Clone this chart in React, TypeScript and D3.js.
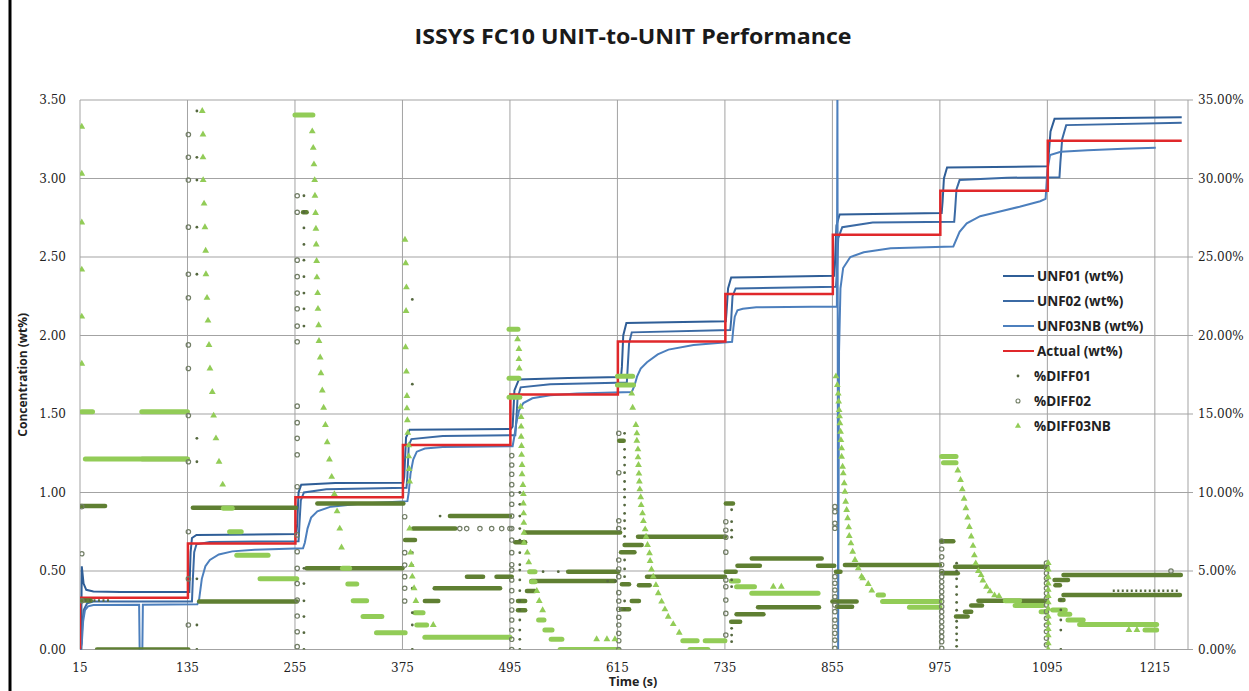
import React from "react";
import * as d3 from "d3";

type P = [number, number];
type R = [number, number, number];

const chartTitle = "ISSYS FC10 UNIT-to-UNIT Performance";
const xTickValues = [15, 135, 255, 375, 495, 615, 735, 855, 975, 1095, 1215];
const yLeftTicks = [0, 0.5, 1, 1.5, 2, 2.5, 3, 3.5];
const yRightTicks = [0, 5, 10, 15, 20, 25, 30, 35];
const legendNames = ["UNF01 (wt%)", "UNF02 (wt%)", "UNF03NB (wt%)", "Actual (wt%)", "%DIFF01", "%DIFF02", "%DIFF03NB"];

// time (s), concentration (wt%)
const unf01: P[] = [
  [15, 0], [16.2, 0], [17, 0.53], [19, 0.42], [22, 0.38], [30, 0.37], [60, 0.366], [137, 0.366],
  [138.5, 0.62], [140, 0.71], [145, 0.73], [256.5, 0.735],
  [257.5, 0.8], [259, 1.0], [262, 1.05], [300, 1.06], [376, 1.062],
  [377, 1.1], [379, 1.35], [383, 1.4], [496, 1.405],
  [498, 1.42], [500, 1.65], [505, 1.72], [560, 1.73], [619, 1.735],
  [620, 1.8], [621.5, 2.0], [625, 2.08], [736, 2.09],
  [736.8, 2.15], [738.5, 2.3], [742, 2.37], [857, 2.38],
  [857.8, 2.45], [859.5, 2.7], [863, 2.77], [977, 2.78],
  [978, 2.85], [979.5, 3.0], [983, 3.07], [1095.5, 3.078],
  [1096.5, 3.15], [1098.5, 3.3], [1103, 3.38], [1245, 3.39]
];
const unf02: P[] = [
  [15, 0], [16.5, 0], [17.5, 0.15], [19, 0.25], [23, 0.295], [30, 0.305], [140, 0.305],
  [141, 0.45], [142.5, 0.62], [145, 0.67], [160, 0.685], [259, 0.69],
  [260, 0.8], [261.5, 0.95], [265, 1.0], [290, 1.02], [379.5, 1.03],
  [380.5, 1.1], [382, 1.3], [385, 1.34], [420, 1.36], [501, 1.365],
  [502, 1.45], [503.5, 1.6], [507, 1.67], [540, 1.69], [625.5, 1.7],
  [626.5, 1.8], [628, 1.95], [631, 2.02], [741, 2.035],
  [742, 2.1], [743.5, 2.25], [747, 2.3], [859, 2.31],
  [860, 2.4], [861.5, 2.62], [866, 2.69], [900, 2.72], [991, 2.725],
  [992, 2.8], [993.5, 2.93], [997, 2.99], [1050, 3.005], [1108.5, 3.008],
  [1109.5, 3.1], [1111.5, 3.25], [1116, 3.34], [1245, 3.355]
];
const unf03nb: P[] = [
  [15, 0], [17, 0.04], [18.5, 0.18], [20.5, 0.25], [24, 0.275], [30, 0.283], [81, 0.285],
  [81.6, 0], [84.6, 0], [85.2, 0.285], [146, 0.288],
  [148, 0.32], [151, 0.45], [155, 0.53], [160, 0.57], [170, 0.605], [185, 0.625], [210, 0.635], [264, 0.645],
  [266, 0.68], [269, 0.77], [273, 0.84], [280, 0.88], [295, 0.91], [330, 0.93], [380.5, 0.945],
  [382, 1.0], [384, 1.12], [387, 1.21], [391, 1.26], [400, 1.28], [420, 1.29], [498, 1.295],
  [500, 1.36], [502, 1.44], [505, 1.52], [510, 1.57], [520, 1.6], [540, 1.62], [570, 1.63], [631, 1.64],
  [634, 1.68], [637, 1.74], [641, 1.79], [648, 1.83], [660, 1.88], [672, 1.91], [700, 1.94], [743, 1.96],
  [744.5, 2.05], [746, 2.12], [749, 2.16], [755, 2.17], [770, 2.18], [860, 2.185],
  [860.6, 3.62], [861.4, 0], [862.4, 1.9], [864, 2.3], [867, 2.43], [875, 2.5], [890, 2.53], [920, 2.555], [990, 2.567],
  [997, 2.66], [1005, 2.715], [1020, 2.76], [1042, 2.79], [1064, 2.82], [1087, 2.855], [1093, 2.87],
  [1095, 3.05], [1098, 3.15], [1110, 3.17], [1140, 3.18], [1180, 3.19], [1216, 3.196]
];
const actualTimes = [15, 135.5, 255.5, 375.5, 495.5, 615.5, 735.5, 855.5, 975.5, 1095.5, 1245];
const actualLevels = [0.33, 0.675, 0.97, 1.303, 1.625, 1.962, 2.264, 2.642, 2.922, 3.241];

// %DIFF runs: [start time, end time, percent] (dense markers)
const diff02Runs: R[] = [
  [16, 43, 9.14], [15, 27, 3.12], [34, 136, 0], [84, 135, 12.13],
  [141, 256, 9.03], [148, 257, 3.05],
  [268, 375, 5.17], [280, 376, 9.3], [264, 268, 27.85],
  [378, 389, 6.97], [387, 434, 7.7], [428, 495, 8.5], [411, 484, 3.9], [447, 465, 4.64], [480, 497, 4.64], [400, 415, 3.09],
  [512, 618, 7.46], [519, 612, 4.36], [560, 616, 4.96], [501, 512, 6.83], [514, 523, 3.73], [504, 512, 3.09], [504, 512, 2.5],
  [638, 735, 7.18], [648, 735, 4.64], [639, 651, 4.1], [623, 642, 6.66], [617, 622, 13.3], [619, 634, 6.19], [620, 628, 4.15], [631, 639, 3.09], [619, 628, 2.56],
  [736, 744, 9.3], [772, 840, 2.69], [765, 843, 5.8], [749, 774, 5.34], [839, 857, 5.34], [748, 778, 2.24], [742, 752, 1.77], [736, 747, 4.96],
  [869, 975, 5.38], [855, 882, 3.05], [860, 877, 2.73], [859, 864, 4.96],
  [992, 1095, 5.27], [977, 995, 4.85], [1018, 1094, 3.1], [1010, 1022, 2.8], [1003, 1010, 2.4], [993, 1006, 2.1], [977, 990, 6.9],
  [1113, 1244, 4.74], [1103, 1118, 4.43], [1104, 1109, 4.1], [1113, 1243, 3.47], [1109, 1113, 3.15]
];
const diff01DotRuns: R[] = [
  [20, 50, 3.12], [1168, 1243, 3.75]
];
const diff03Runs: R[] = [
  [17, 29, 15.15], [84, 135, 15.15], [21, 135, 12.13],
  [175, 185, 9.0], [182, 195, 7.5], [190, 225, 6.0], [216, 257, 4.5],
  [255, 275, 34.05], [308, 316, 5.17], [314, 324, 4.17], [320, 335, 3.1], [331, 352, 2.1], [346, 378, 1.07],
  [389, 398, 2.34], [391, 402, 1.56], [400, 495, 0.78],
  [494, 504, 20.4], [494, 505, 17.27], [494, 506, 16.06], [517, 523, 4.96], [519, 523, 4.32], [527, 533, 1.88], [534, 542, 1.24], [541, 553, 0.65], [551, 616, 0],
  [615, 632, 17.4], [615, 633, 16.85], [688, 704, 0.56], [696, 716, 0], [713, 735, 0.56],
  [765, 839, 3.58], [748, 768, 4.0], [742, 750, 4.36],
  [906, 912, 3.47], [911, 975, 3.05], [941, 975, 2.69],
  [977, 993, 12.3], [979, 993, 11.9], [1048, 1064, 3.1], [1059, 1090, 2.8], [1088, 1094, 2.4],
  [1101, 1115, 2.52], [1109, 1120, 2.24], [1118, 1135, 1.88], [1131, 1217, 1.6], [1204, 1217, 1.24]
];

// individual markers: [time, percent]
const diff03Points: P[] = [
  [17, 33.3], [17, 30.3], [17, 27.2], [17, 24.2], [17, 21.2], [17, 18.2],
  [151.5, 34.3], [152.3, 32.8], [152.3, 31.35], [152.5, 29.9], [153.5, 28.4], [154.5, 26.9], [155.3, 25.4], [155.6, 23.9],
  [156.8, 22.4], [157.9, 20.95], [159, 19.4], [160.1, 17.9], [162.7, 16.4], [164.2, 14.9], [166.8, 13.45], [170.2, 11.96], [174.3, 10.5],
  [274.3, 33.0], [275.4, 31.95], [276.2, 30.9], [277, 29.9], [277.3, 28.9], [278, 27.8], [278.4, 26.8], [278.7, 25.8],
  [279.2, 24.75], [279.5, 23.7], [280.3, 22.7], [280.7, 21.7], [281.4, 20.65], [281.8, 19.65], [283.2, 18.6], [284, 17.6],
  [285.5, 16.5], [287, 15.4], [289, 14.3], [291, 13.2], [293.5, 12.1], [296, 11.0], [299, 9.9], [302, 8.8], [305, 7.7], [307, 6.5],
  [377.8, 26.1], [378.6, 24.6], [379.4, 23.07], [379, 21.56], [378.5, 19.25], [379.4, 17.7], [380, 16.15], [380, 15.36],
  [380.5, 14.6], [381, 13.8], [382, 13.0], [382, 12.3], [382.5, 11.5], [383, 10.7], [383, 7.7], [384, 6.17], [385, 5.38],
  [386, 4.64], [388, 3.9], [390, 3.09], [409.4, 1.56],
  [503.5, 19.76], [505, 19.14], [505, 18.5], [505.4, 17.9], [507, 15.46], [507.5, 14.8], [507.5, 14.2], [507.5, 13.55],
  [507.9, 12.96], [508, 12.4], [508.5, 11.75], [508.5, 11.16], [509.5, 10.48], [510, 9.9], [510, 9.3], [510.3, 8.67],
  [510.5, 8.07], [510.7, 7.44], [510.7, 6.8], [514.4, 6.17], [516, 5.55], [525, 3.73], [527.7, 3.09], [531.5, 2.5],
  [591.8, 0.65], [603.3, 0.65], [612.2, 0.65],
  [631, 16.3], [632, 15.4], [635.6, 14.3], [636.7, 13.77], [636.7, 13.3], [637.9, 12.75], [638, 12.24], [638.5, 11.75],
  [639, 11.2], [639.5, 10.7], [640, 10.2], [641, 9.7], [641.5, 9.2], [643, 8.67], [644, 8.18], [646, 7.65], [647, 7.18],
  [648.6, 6.66], [650.8, 6.13], [651.5, 5.64], [653, 5.1], [655, 4.64], [658, 4.1], [660.6, 3.58], [664.3, 3.05],
  [668, 2.56], [671.7, 2.09], [677.3, 1.62], [684, 1.07],
  [789, 4.0], [798, 4.0],
  [859, 17.4], [860.5, 16.85], [861.5, 16.3], [862, 15.8], [862.5, 15.25], [863, 14.85],
  [863.4, 14.41], [864.1, 13.87], [864.5, 13.34], [865.3, 12.81], [865.3, 12.28], [866.4, 11.64], [867.1, 11.22], [868.2, 10.59],
  [869, 10.05], [869.8, 9.41], [870.9, 8.89], [872, 8.36], [873.1, 7.78], [873.8, 7.23], [875.7, 6.76], [877.6, 6.23],
  [880.2, 5.7], [883.9, 5.17], [887.6, 4.64], [889, 4.53], [895, 4.17], [899, 3.75],
  [995, 11.4], [998, 10.8], [1000, 10.2], [1002, 9.6], [1004, 9.0], [1006, 8.4], [1008, 7.8], [1010, 7.2], [1012, 6.6],
  [1013.5, 6.0], [1015, 5.49], [1018, 5.0], [1021, 4.74], [1023, 4.4], [1027, 4.0], [1031, 3.7], [1036, 3.45], [1041, 3.4],
  [1096, 5.5], [1096, 5.1], [1096, 4.6], [1096, 4.2], [1096, 3.8], [1096, 3.4], [1096, 3.0], [1096, 2.6], [1096, 2.1],
  [1096, 1.7], [1096, 1.3], [1096, 0.9], [1096, 0.4], [1096, 0],
  [1186, 1.24], [1195, 1.24]
];
const diff02Points: P[] = [
  [17, 9.1], [17, 6.1], [17, 3.1],
  [136, 32.8], [136, 31.35], [136, 29.9], [136, 26.9], [136, 23.9], [136, 22.4], [136, 19.4], [136, 17.9], [136, 14.9],
  [136, 11.96], [136, 7.5], [136, 4.5], [136, 1.56],
  [257.5, 28.9], [257.5, 27.85], [257.5, 24.8], [257.5, 23.75], [257.5, 22.7], [257.5, 21.7], [257.5, 20.6], [257.5, 19.6],
  [257.5, 15.5], [257.5, 14.45], [257.5, 13.45], [257.5, 12.4], [257.5, 10.37], [257.5, 7.3], [257.5, 6.23], [257.5, 5.17],
  [257.5, 4.2], [257.5, 3.15], [257.5, 2.13], [257.5, 1.13], [257.5, 0.18],
  [377.5, 8.46], [377.5, 6.17], [377.5, 5.38], [377.5, 4.64], [377.5, 3.9], [377.5, 3.09],
  [439, 7.7], [446.7, 7.7], [461.5, 7.7], [474.6, 7.7], [485.8, 7.7], [495, 7.7],
  [497, 12.35], [497, 11.75], [497, 11.16], [497, 10.5], [497, 9.9], [497, 9.25], [497, 8.5], [497, 7.7], [497, 6.97],
  [497, 6.17], [497, 5.4], [497, 5.06], [497, 4.43], [497, 3.75], [497, 3.1], [497, 2.52], [497, 1.88], [497, 1.24], [497, 0.65], [497, 0],
  [616.5, 13.77], [616.5, 11.26], [616.5, 8.2], [616.5, 7.7], [616.5, 5.7], [616.5, 5.13], [616.5, 4.64], [616.5, 3.62],
  [616.5, 3.09], [616.5, 2.56], [616.5, 2.05], [616.5, 1.56], [616.5, 1.03], [616.5, 0.56], [616.5, 0],
  [736, 8.14], [736, 7.6], [736, 7.15], [736, 6.2], [736, 4.43], [736, 4.0], [736, 3.15], [736, 2.3], [736, 0.92],
  [857.8, 9.1], [857.8, 8.78], [857.8, 8.04], [857.8, 7.72], [857.8, 4.64], [857.8, 4.22], [857.8, 3.79], [857.8, 3.36],
  [857.8, 2.83], [857.8, 2.41], [857.8, 1.88], [857.8, 1.45], [857.8, 1.03], [857.8, 0.6], [857.8, 0.08],
  [977, 6.9], [977, 6.4], [977, 5.9], [977, 5.4], [977, 4.96], [977, 4.64], [977, 4.32], [977, 4.0], [977, 3.68], [977, 3.36],
  [977, 3.05], [977, 2.73], [977, 2.41], [977, 2.09], [977, 1.77], [977, 1.45], [977, 1.13], [977, 0.82], [977, 0.5], [977, 0.08],
  [1094, 5.5], [1094, 5.18], [1094, 4.86], [1094, 4.54], [1094, 4.22], [1094, 3.9], [1094, 3.58], [1094, 3.26], [1094, 2.84],
  [1094, 2.41], [1094, 1.99], [1094, 1.56], [1094, 1.14], [1094, 0.72], [1094, 0.3],
  [1233, 5.0]
];
const diff01Points: P[] = [
  [17, 33.3], [17, 30.3], [17, 27.2], [17, 24.2], [17, 21.2], [17, 18.2],
  [145.5, 34.3], [145.5, 31.35], [145.5, 29.9], [145.5, 26.9], [145.5, 23.9], [145.5, 13.45], [145.5, 11.96], [145.5, 4.5], [145.5, 1.56], [145.5, 0],
  [265, 28.9], [265, 27.85], [265, 26.85], [265, 25.8], [265, 24.8], [265, 23.75], [265, 22.7], [265, 21.7], [265, 20.6],
  [265, 5.17], [265, 4.2], [265, 3.1], [265, 2.1], [265, 1.07], [265, 0],
  [386, 22.3], [386, 16.9], [386, 6.17], [386, 5.38], [386, 4.64], [386, 3.9], [386, 2.34], [386, 1.56], [386, 0], [417, 8.5],
  [506, 10.0], [506, 9.25], [506, 8.5], [506, 7.7], [506, 6.97], [506, 6.17], [506, 5.4], [506, 5.06], [506, 4.43], [506, 3.75],
  [506, 3.1], [506, 2.52], [506, 1.88], [506, 1.24], [506, 0.65], [506, 0],
  [532, 4.96], [549, 4.96], [604, 4.36], [613, 4.36],
  [623, 13.77], [623, 12.75], [623, 12.24], [623, 11.75], [623, 11.26], [623, 10.7], [623, 10.2], [623, 9.7], [623, 9.2],
  [623, 8.67], [623, 8.2], [623, 7.7], [623, 7.2], [623, 5.7], [623, 5.13], [623, 4.64], [623, 3.09], [623, 2.56],
  [742.5, 8.9], [742.5, 8.14], [742.5, 7.6], [742.5, 7.15], [742.5, 4.43], [742.5, 4.0], [742.5, 1.35], [742.5, 0.92], [742.5, 0.5],
  [993.7, 5.5], [993.7, 5.0], [993.7, 4.5], [993.7, 4.0], [993.7, 3.5], [993.7, 3.0], [993.7, 2.5], [993.7, 1.8], [993.7, 1.4],
  [993.7, 1.0], [993.7, 0.6], [993.7, 0.2],
  [1110, 3.15], [1110, 2.52], [1110, 1.88], [1110, 1.24], [1110, 0]
];

export default function App() {
  const W = 1249;
  const H = 691;
  const left = 80;
  const right = 1188;
  const top = 100;
  const bottom = 649.5;
  const x = d3.scaleLinear().domain([15, 1252]).range([left, right]);
  const y = d3.scaleLinear().domain([0, 3.5]).range([bottom, top]);
  const y2 = d3.scaleLinear().domain([0, 35]).range([bottom, top]);
  const line = d3.line<P>().x((d) => x(d[0])).y((d) => y(d[1]));

  const actualPts: P[] = [[actualTimes[0], 0]];
  actualLevels.forEach((lv, i) => {
    actualPts.push([actualTimes[i], lv]);
    actualPts.push([actualTimes[i + 1], lv]);
  });

  const tri = d3.symbol().type(d3.symbolTriangle).size(20)() as string;
  const triLegend = d3.symbol().type(d3.symbolTriangle).size(16)() as string;

  const gridColor = "#a3a3a3";
  const cUNF01 = "#2f5e97";
  const cUNF02 = "#3b6aa4";
  const cUNF03 = "#4c7fbd";
  const cActual = "#e0282b";
  const cDark = "#5f7f32";
  const cLight = "#92cc57";
  const cDot = "#55683f";
  const cCircle = "#727e66";

  const labelFont = "'DejaVu Serif', serif";
  const boldFont = "'Open Sans', 'DejaVu Sans', sans-serif";

  return (
    <svg width={W} height={H} style={{ position: "absolute", left: 0, top: 0, background: "#fff" }}>
      <defs>
        <clipPath id="plotClip">
          <rect x={left} y={top} width={right - left} height={bottom - top} />
        </clipPath>
      </defs>
      <rect x={0} y={0} width={W} height={H} fill="#fff" />
      <line x1={10} y1={0} x2={10} y2={H} stroke="#000" strokeWidth={3} />

      <text x={633} y={44} textAnchor="middle" fontFamily={boldFont} fontWeight={700} fontSize={21} textLength={437} lengthAdjust="spacingAndGlyphs" fill="#1a1a1a">
        {chartTitle}
      </text>

      {/* grid */}
      {yLeftTicks.map((t) => (
        <line key={"h" + t} x1={left} x2={right} y1={y(t)} y2={y(t)} stroke={gridColor} strokeWidth={1} />
      ))}
      {xTickValues.map((t) => (
        <line key={"v" + t} x1={x(t)} x2={x(t)} y1={top} y2={bottom} stroke={gridColor} strokeWidth={1} />
      ))}
      <line x1={right} x2={right} y1={top} y2={bottom} stroke={gridColor} strokeWidth={1} />
      {yRightTicks.map((t) => (
        <line key={"rt" + t} x1={right} x2={right + 5} y1={y2(t)} y2={y2(t)} stroke={gridColor} strokeWidth={1} />
      ))}

      {/* axis labels */}
      {yLeftTicks.map((t) => (
        <text key={"yl" + t} x={66} y={y(t) + 4} textAnchor="end" fontFamily={labelFont} fontSize={12} fill="#222">
          {t.toFixed(2)}
        </text>
      ))}
      {yRightTicks.map((t) => (
        <text key={"yr" + t} x={1198} y={y2(t) + 4} textAnchor="start" fontFamily={labelFont} fontSize={12} fill="#222">
          {t.toFixed(2) + "%"}
        </text>
      ))}
      {xTickValues.map((t) => (
        <text key={"xl" + t} x={x(t)} y={672} textAnchor="middle" fontFamily={labelFont} fontSize={12} fill="#222">
          {t}
        </text>
      ))}
      <text x={633} y={686} textAnchor="middle" fontFamily={boldFont} fontWeight={700} fontSize={12.5} fill="#222">
        Time (s)
      </text>
      <text transform={`translate(27, ${(top + bottom) / 2}) rotate(-90)`} textAnchor="middle" fontFamily={boldFont} fontWeight={700} fontSize={12} fill="#222">
        Concentration (wt%)
      </text>

      <g clipPath="url(#plotClip)">
        {/* lines */}
        <path d={line(unf01) || ""} fill="none" stroke={cUNF01} strokeWidth={2} />
        <path d={line(unf02) || ""} fill="none" stroke={cUNF02} strokeWidth={2} />
        <path d={line(unf03nb) || ""} fill="none" stroke={cUNF03} strokeWidth={2} />
        <path d={line(actualPts) || ""} fill="none" stroke={cActual} strokeWidth={2.5} />

        {/* dense runs */}
        {diff02Runs.map((r, i) => (
          <line key={"dr" + i} x1={x(r[0])} x2={x(r[1])} y1={y2(r[2])} y2={y2(r[2])} stroke={cDark} strokeWidth={4.5} strokeLinecap="round" />
        ))}
        {diff01DotRuns.map((r, i) => (
          <line key={"dd" + i} x1={x(r[0])} x2={x(r[1])} y1={y2(r[2])} y2={y2(r[2])} stroke={cDot} strokeWidth={2.5} strokeDasharray="2 2.5" />
        ))}
        {diff03Runs.map((r, i) => (
          <line key={"lr" + i} x1={x(r[0])} x2={x(r[1])} y1={y2(r[2])} y2={y2(r[2])} stroke={cLight} strokeWidth={5} strokeLinecap="round" />
        ))}

        {/* points */}
        {diff02Points.map((p, i) => (
          <circle key={"c" + i} cx={x(p[0])} cy={y2(p[1])} r={2.2} fill="none" stroke={cCircle} strokeWidth={1.2} />
        ))}
        {diff01Points.map((p, i) => (
          <circle key={"d" + i} cx={x(p[0])} cy={y2(p[1])} r={1.4} fill={cDot} />
        ))}
        {diff03Points.map((p, i) => (
          <path key={"t" + i} d={tri} transform={`translate(${x(p[0])},${y2(p[1])})`} fill={cLight} />
        ))}
      </g>

      {/* legend */}
      {[cUNF01, cUNF02, cUNF03, cActual].map((c, i) => (
        <line key={"ll" + i} x1={1003} x2={1034} y1={276 + i * 25} y2={276 + i * 25} stroke={c} strokeWidth={2} />
      ))}
      <circle cx={1018} cy={376} r={1.4} fill={cDot} />
      <circle cx={1018} cy={401} r={2} fill="none" stroke={cCircle} strokeWidth={1.1} />
      <path d={triLegend} transform="translate(1018,426)" fill={cLight} />
      {legendNames.map((n, i) => (
        <text key={"lt" + i} x={i < 4 ? 1037 : 1034} y={276 + i * 25 + 5} fontFamily={boldFont} fontWeight={700} fontSize={13.5} fill="#222">
          {n}
        </text>
      ))}
    </svg>
  );
}
